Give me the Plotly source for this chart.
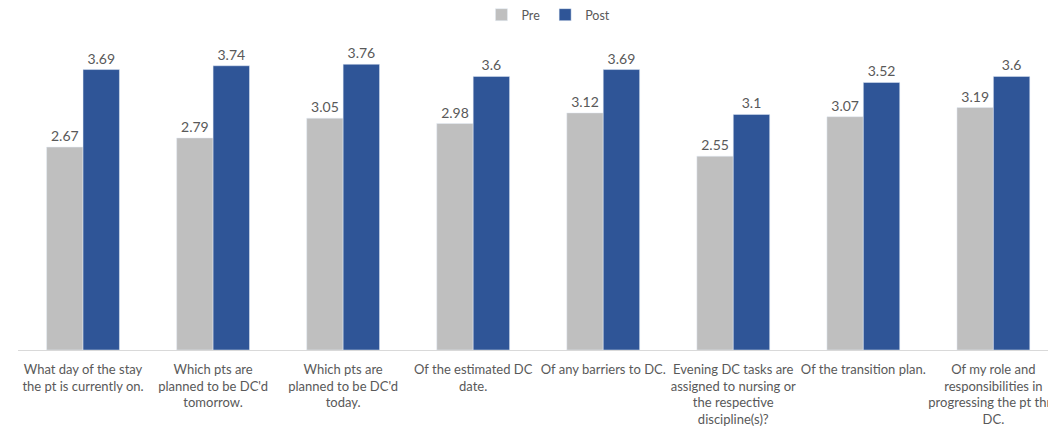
import plotly.graph_objects as go

categories = [
    "What day of the stay<br>the pt is currently on.",
    "Which pts are<br>planned to be DC'd<br>tomorrow.",
    "Which pts are<br>planned to be DC'd<br>today.",
    "Of the estimated DC<br>date.",
    "Of any barriers to DC.",
    "Evening DC tasks are<br>assigned to nursing or<br>the respective<br>discipline(s)?",
    "Of the transition plan.",
    "Of my role and<br>responsibilities in<br>progressing the pt thru<br>DC.",
]
pre_values = [2.67, 2.79, 3.05, 2.98, 3.12, 2.55, 3.07, 3.19]
post_values = [3.69, 3.74, 3.76, 3.6, 3.69, 3.1, 3.52, 3.6]

label_color = "#595959"
font_family = "Lato, Carlito, 'Liberation Sans', sans-serif"

fig = go.Figure()
fig.add_trace(go.Bar(
    name="Pre", x=categories, y=pre_values,
    marker_color="#BFBFBF",
    text=[f"{v:g}" for v in pre_values], textposition="outside",
    textfont=dict(size=14, color=label_color), cliponaxis=False,
))
fig.add_trace(go.Bar(
    name="Post", x=categories, y=post_values,
    marker_color="#2F5597",
    text=[f"{v:g}" for v in post_values], textposition="outside",
    textfont=dict(size=14, color=label_color), cliponaxis=False,
))

fig.update_layout(
    width=1048, height=430,
    barmode="group", bargap=0.44, bargroupgap=0,
    margin=dict(l=18, r=0, t=46, b=80, autoexpand=False),
    plot_bgcolor="white", paper_bgcolor="white",
    font=dict(family=font_family, size=13, color=label_color),
    legend=dict(orientation="h", x=0.515, xanchor="center", y=1.0, yanchor="top",
                yref="container", font=dict(size=12.5, color=label_color),
                itemwidth=30, traceorder="normal"),
    xaxis=dict(range=[-0.5, 7.42], showline=True, linecolor="#D9D9D9", linewidth=1,
               automargin=False,
               ticks="", tickfont=dict(size=13, color=label_color), tickangle=0,
               ticklabelstandoff=7),
    yaxis=dict(range=[0, 4], visible=False, showgrid=False, automargin=False),
)

fig.write_html("out.html")
